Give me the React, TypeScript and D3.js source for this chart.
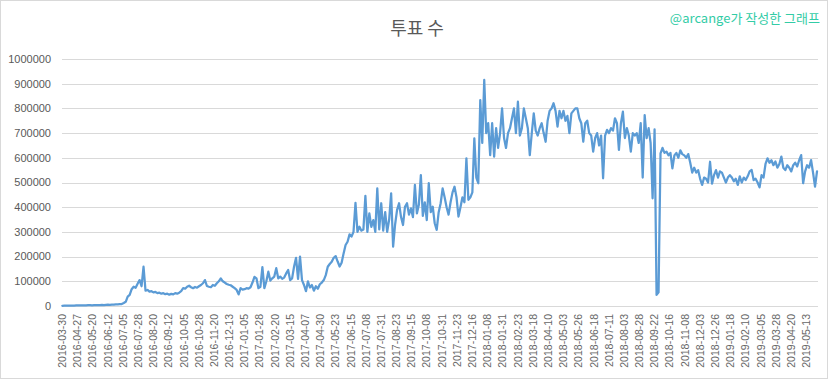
import React from "react";
import * as d3 from "d3";

const xLabels: string[] = [
  "2016-03-30","2016-04-27","2016-05-20","2016-06-12","2016-07-05","2016-07-28","2016-08-20","2016-09-12",
  "2016-10-05","2016-10-28","2016-11-20","2016-12-13","2017-01-05","2017-01-28","2017-02-20","2017-03-15",
  "2017-04-07","2017-04-30","2017-05-23","2017-06-15","2017-07-08","2017-07-31","2017-08-23","2017-09-15",
  "2017-10-08","2017-10-31","2017-11-23","2017-12-16","2018-01-08","2018-01-31","2018-02-23","2018-03-18",
  "2018-04-10","2018-05-03","2018-05-26","2018-06-18","2018-07-11","2018-08-03","2018-08-28","2018-09-22",
  "2018-10-16","2018-11-08","2018-12-03","2018-12-26","2019-01-18","2019-02-10","2019-03-05","2019-03-28",
  "2019-04-20","2019-05-13",
];

const yTickValues: number[] = [0,100000,200000,300000,400000,500000,600000,700000,800000,900000,1000000];

// vote counts, one reading every 3 days of the category axis
const votes: number[] = [
  1000,1200,1500,1300,1800,2000,1600,2200,2500,2100,2800,3000,2600,3200,3500,3000,3600,4000,3500,
  4000,4500,3800,5000,5500,4800,6000,5200,6500,
  7000,8000,8000,12000,17000,38000,45000,68000,78000,74000,90000,105000,
  80000,159000,62000,65000,58000,60000,55000,57000,52000,54000,
  50000,52000,48000,50000,46000,49000,47000,52000,50000,54000,
  60000,72000,70000,78000,82000,76000,72000,77000,74000,80000,
  85000,92000,105000,81000,78000,76000,85000,82000,92000,100000,
  112000,100000,95000,89000,86000,84000,78000,72000,65000,47000,
  72000,66000,68000,72000,70000,76000,95000,118000,112000,72000,
  78000,157000,72000,100000,139000,103000,112000,119000,153000,112000,
  119000,110000,115000,132000,146000,105000,112000,160000,195000,110000,
  200000,105000,85000,60000,100000,75000,85000,62000,80000,70000,
  88000,95000,105000,125000,159000,170000,179000,195000,202000,180000,
  160000,175000,213000,247000,260000,290000,281000,300000,418000,300000,
  321000,305000,310000,446000,300000,375000,320000,348000,300000,476000,
  310000,416000,305000,380000,300000,350000,456000,240000,330000,389000,
  416000,360000,328000,402000,416000,370000,395000,360000,490000,375000,
  410000,530000,365000,420000,348000,497000,380000,402000,335000,308000,
  380000,416000,476000,440000,400000,370000,420000,460000,483000,440000,
  362000,400000,440000,420000,598000,430000,440000,460000,679000,520000,
  497000,834000,660000,915000,700000,740000,611000,740000,605000,720000,
  640000,700000,800000,680000,640000,700000,720000,760000,800000,700000,
  827000,690000,720000,800000,760000,720000,611000,700000,780000,710000,
  690000,720000,740000,700000,665000,750000,790000,800000,821000,790000,
  726000,790000,760000,790000,750000,770000,700000,780000,790000,800000,
  800000,760000,740000,665000,740000,750000,700000,690000,625000,680000,
  700000,650000,690000,517000,690000,713000,700000,720000,710000,760000,
  740000,632000,740000,787000,680000,720000,690000,625000,700000,690000,
  700000,660000,740000,520000,773000,680000,720000,660000,436000,715000,
  45000,55000,618000,640000,620000,625000,610000,620000,557000,610000,
  620000,600000,630000,615000,610000,600000,615000,580000,540000,560000,
  540000,550000,515000,490000,520000,515000,500000,584000,495000,530000,
  550000,520000,545000,540000,520000,500000,520000,530000,520000,505000,
  515000,490000,525000,500000,520000,510000,525000,545000,551000,510000,
  515000,500000,480000,530000,520000,575000,598000,580000,590000,570000,
  585000,560000,575000,605000,560000,550000,570000,560000,545000,570000,
  580000,565000,590000,611000,497000,545000,570000,560000,591000,540000,
  483000,545000,
];

const TOTAL_CATEGORIES = 1145;
const SAMPLE_STEP = 3;
const LABEL_STEP = 23;

const W = 832;
const H = 379;
const plotLeft = 62;
const plotRight = 818;
const plotTop = 59;
const plotBottom = 306;

export default function App() {
  const band = (plotRight - plotLeft) / TOTAL_CATEGORIES;
  const x = d3
    .scaleLinear()
    .domain([0, TOTAL_CATEGORIES - 1])
    .range([plotLeft + band / 2, plotRight - band / 2]);
  const y = d3.scaleLinear().domain([0, 1000000]).range([plotBottom, plotTop]);

  const line = d3
    .line<number>()
    .x((_, i) => x(i * SAMPLE_STEP))
    .y((d) => y(d))
    .curve(d3.curveLinear);

  const numFont = "'Liberation Sans', Arial, sans-serif";
  const krFont = "'Noto Sans CJK KR', 'Noto Sans', sans-serif";

  return (
    <svg
      width={W}
      height={H}
      style={{ position: "absolute", left: 0, top: 0, background: "#fff" }}
    >
      <rect x={0.5} y={0.5} width={827} height={378} fill="#fff" stroke="#d9d9d9" />
      <text
        x={417}
        y={35}
        textAnchor="middle"
        fontFamily={krFont}
        fontSize={18}
        fill="#595959"
      >
        투표 수
      </text>
      <text
        x={820}
        y={23}
        textAnchor="end"
        fontFamily={krFont}
        fontSize={13}
        fill="#33cca6"
      >
        @arcange가 작성한 그래프
      </text>
      {yTickValues.map((v) => (
        <g key={v}>
          <line
            x1={plotLeft}
            x2={plotRight}
            y1={Math.round(y(v)) + 0.5}
            y2={Math.round(y(v)) + 0.5}
            stroke="#d9d9d9"
            strokeWidth={1}
          />
          <text
            x={51}
            y={y(v)}
            dy="0.35em"
            textAnchor="end"
            fontFamily={numFont}
            fontSize={11}
            fill="#595959"
          >
            {v}
          </text>
        </g>
      ))}
      {xLabels.map((lab, k) => {
        const cx = x(k * LABEL_STEP);
        return (
          <text
            key={lab}
            transform={`translate(${cx},314) rotate(-90)`}
            dy="0.35em"
            textAnchor="end"
            fontFamily={numFont}
            fontSize={10.5}
            fill="#666666"
          >
            {lab}
          </text>
        );
      })}
      <path
        d={line(votes) || ""}
        fill="none"
        stroke="#5b9bd5"
        strokeWidth={2.25}
        strokeLinejoin="round"
        strokeLinecap="round"
      />
    </svg>
  );
}
